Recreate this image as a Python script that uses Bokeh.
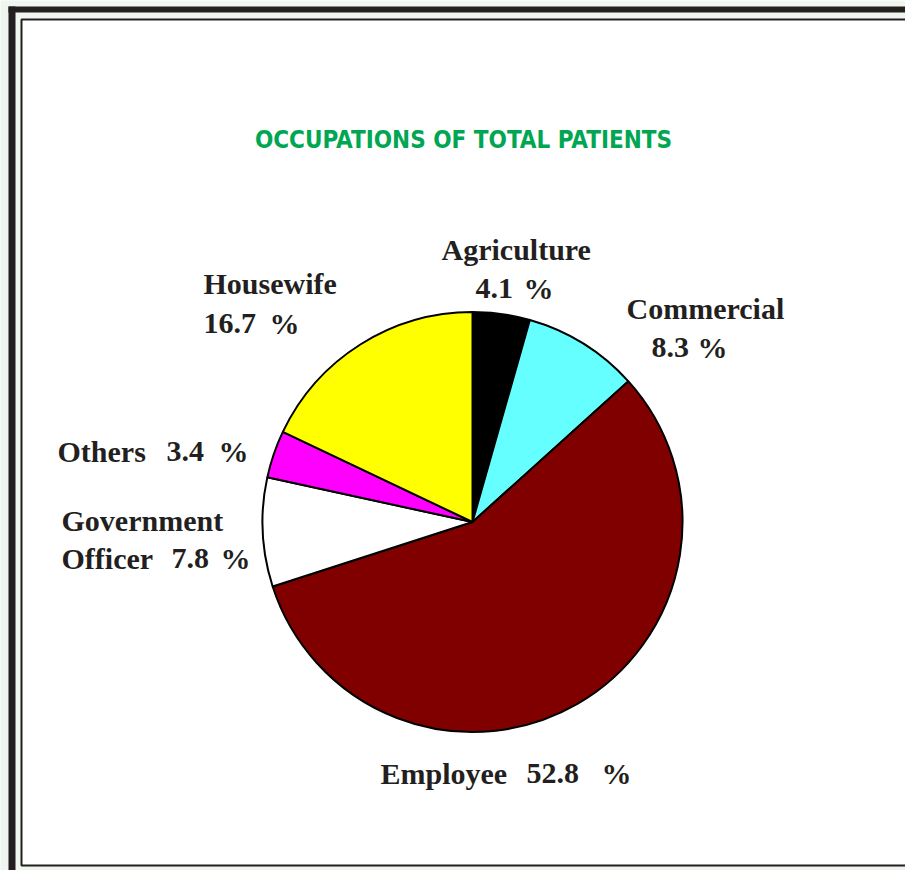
import math
from bokeh.plotting import figure
from bokeh.models import Range1d, ColumnDataSource
from bokeh.core.properties import value
from bokeh.embed import file_html
from bokeh.resources import INLINE

# ---- data ----
title_text = "OCCUPATIONS OF TOTAL PATIENTS"
categories = ["Agriculture", "Commercial", "Employee", "Government Officer", "Others", "Housewife"]
values = [4.1, 8.3, 52.8, 7.8, 3.4, 16.7]
colors = ["#000000", "#66ffff", "#800000", "#ffffff", "#ff00ff", "#ffff00"]

# ---- layout (page pixel coordinates) ----
W, H = 905, 870
X0, Y0 = 0, 0          # page offset of the canvas
CX, CY, R = 472, 521.5, 210

def py(page_y):
    return (Y0 + H) - page_y

p = figure(width=W, height=H, output_backend="svg", toolbar_location=None,
           x_range=Range1d(X0, X0 + W), y_range=Range1d(0, H),
           min_border=0, outline_line_color=None, background_fill_color="#eff5ef",
           border_fill_color="#eff5ef")
p.axis.visible = False
p.grid.visible = False

# dark frame (left and top bands)
p.quad(left=[8, 8], right=[15, 905], bottom=[py(870), py(12)], top=[py(6), py(6)],
       fill_color="#231f20", line_color=None)
# inner white panel with thin border
p.quad(left=[21], right=[930], bottom=[py(865)], top=[py(19)],
       fill_color="#ffffff", line_color="#231f20", line_width=2)

# pie
total = sum(values)
cum = 0.0
starts, ends = [], []
for v in values:
    a0 = math.pi / 2 - 2 * math.pi * cum / total
    cum += v
    a1 = math.pi / 2 - 2 * math.pi * cum / total
    starts.append(a1)
    ends.append(a0)
src = ColumnDataSource(dict(x=[CX] * len(values), y=[py(CY)] * len(values),
                            start=starts, end=ends, color=colors))
p.wedge(x="x", y="y", radius=R, start_angle="start", end_angle="end",
        fill_color="color", line_color="#000000", line_width=2, source=src)

# title
p.text(x=[463], y=[py(139)], text=[title_text], text_align="center", text_baseline="middle",
       text_font=value("DejaVu Sans Condensed"), text_font_style="bold",
       text_font_size="24px", text_color="#00a651")

# labels: pieces placed at (left x, baseline y)
label_pos = {
    "Agriculture": [(441, 249), (475, 288), (523, 288)],
    "Commercial": [(626, 308), (651, 347), (697, 347)],
    "Employee": [(380, 773), (526, 773), (601, 773)],
    "Government Officer": [(61, 520), (61, 558), (171, 558), (220, 558)],
    "Others": [(57, 451), (166, 451), (218, 451)],
    "Housewife": [(203, 283), (203, 323), (269, 323)],
}
tx, ty, tt = [], [], []
for cat, v in zip(categories, values):
    pieces = cat.split(" ") + [f"{v}", "%"]
    for txt, (x, y) in zip(pieces, label_pos[cat]):
        tx.append(x)
        ty.append(py(y))
        tt.append(txt)
p.text(x=tx, y=ty, text=tt, text_align="left", text_baseline="alphabetic",
       text_font=value("Liberation Serif"), text_font_style="bold",
       text_font_size="30px", text_color="#231f20")

open("out.html", "w").write(file_html(p, INLINE))
